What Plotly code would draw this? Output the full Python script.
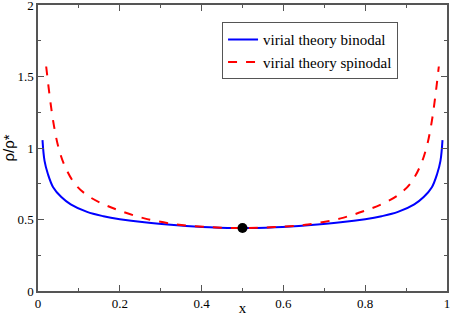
import plotly.graph_objects as go

# Binodal (blue solid)
bin_x = [0.011, 0.016, 0.024, 0.037, 0.057, 0.08, 0.12, 0.16, 0.2, 0.26, 0.34, 0.42, 0.5,
         0.58, 0.66, 0.74, 0.8, 0.84, 0.88, 0.92, 0.943, 0.963, 0.976, 0.984, 0.989]
bin_y = [1.055, 0.91, 0.82, 0.726, 0.657, 0.606, 0.553, 0.523, 0.502, 0.48, 0.46, 0.446, 0.44,
         0.446, 0.46, 0.48, 0.502, 0.523, 0.553, 0.606, 0.657, 0.726, 0.82, 0.91, 1.055]

# Spinodal (red dashed)
spin_x = [0.02, 0.028, 0.037, 0.049, 0.065, 0.09, 0.12, 0.16, 0.2, 0.26, 0.34, 0.42, 0.5,
          0.58, 0.66, 0.74, 0.8, 0.84, 0.88, 0.91, 0.935, 0.951, 0.963, 0.972, 0.98]
spin_y = [1.57, 1.375, 1.19, 1.016, 0.877, 0.75, 0.67, 0.607, 0.562, 0.508, 0.465, 0.447, 0.44,
          0.447, 0.465, 0.508, 0.562, 0.607, 0.67, 0.75, 0.877, 1.016, 1.19, 1.375, 1.57]

crit_x = [0.5]
crit_y = [0.44]

x_ticks = [0, 0.2, 0.4, 0.6, 0.8, 1]
x_labels = ["0", "0.2", "0.4", "0.6", "0.8", "1"]
y_ticks = [0, 0.5, 1, 1.5, 2]
y_labels = ["0", "0.5", "1", "1.5", "2"]

SERIF = "Liberation Serif, Times New Roman, DejaVu Serif, serif"

fig = go.Figure()
fig.add_trace(go.Scatter(x=bin_x, y=bin_y, mode="lines", name="virial theory binodal",
                         line=dict(color="#0000ff", width=2, shape="spline")))
fig.add_trace(go.Scatter(x=spin_x, y=spin_y, mode="lines", name="virial theory spinodal",
                         line=dict(color="#ff0000", width=2, dash="dash", shape="spline")))
fig.add_trace(go.Scatter(x=crit_x, y=crit_y, mode="markers", showlegend=False,
                         marker=dict(color="black", size=10)))

axis_common = dict(showgrid=False, zeroline=False, showline=True, linecolor="#555555", linewidth=1.5,
                   mirror="allticks", ticks="inside", ticklen=6, tickcolor="#555555", tickwidth=1,
                   automargin=False, ticklabeloverflow="allow",
                   tickfont=dict(family=SERIF, size=13, color="black"))

fig.update_xaxes(range=[0, 1], tickvals=x_ticks, ticktext=x_labels,
                 minor=dict(dtick=0.1, ticks="inside", ticklen=3, tickcolor="#555555"),
                 title=dict(text="x", font=dict(family=SERIF, size=15, color="black"), standoff=1),
                 **axis_common)
fig.update_yaxes(range=[0, 2], tickvals=y_ticks, ticktext=y_labels,
                 minor=dict(dtick=0.25, ticks="inside", ticklen=3, tickcolor="#555555"),
                 title=dict(text="ρ/ρ*", font=dict(family="Liberation Sans, Arial, sans-serif", size=15, color="black"), standoff=4),
                 **axis_common)

fig.update_layout(width=450, height=316, margin=dict(l=38, r=3, t=5, b=25),
                  plot_bgcolor="white", paper_bgcolor="white",
                  font=dict(family=SERIF),
                  legend=dict(x=0.45, y=0.84, xanchor="left", yanchor="middle",
                              bordercolor="#555555", borderwidth=1, bgcolor="white",
                              font=dict(family=SERIF, size=15, color="black"),
                              tracegroupgap=0, itemwidth=30))

fig.write_html("out.html", config={"displayModeBar": False},
               post_script="document.body.style.margin='0';document.body.style.padding='0';")
